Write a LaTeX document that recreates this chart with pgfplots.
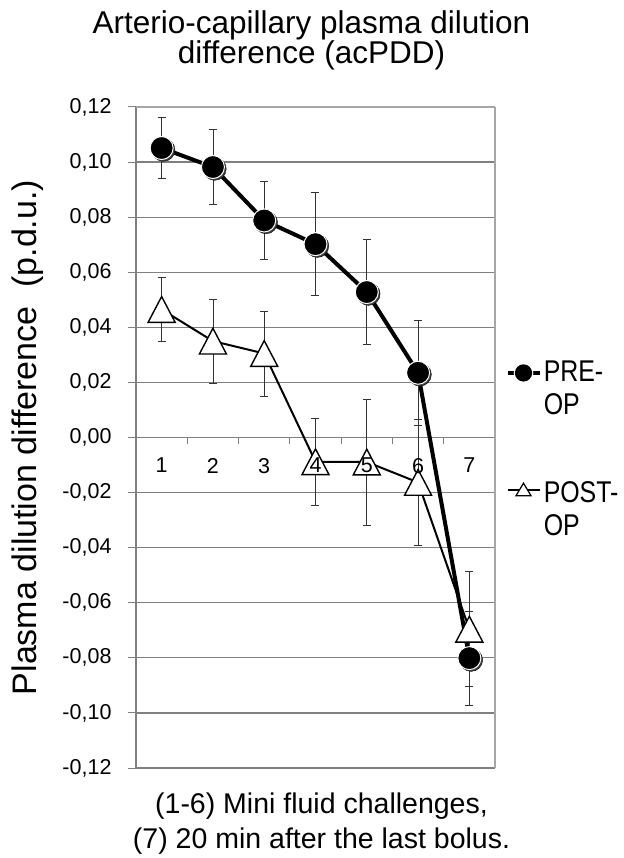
\documentclass[border=0pt]{standalone}
\usepackage{fontspec}
\setmainfont{Liberation Sans}
\usepackage{pgfplots}
\pgfplotsset{compat=1.18}
\newcommand\tickfont{\fontsize{21.5}{24}\selectfont}
\pgfplotsset{
    frame/.style={at={(0,0)}, anchor=south west,
        scale only axis, width=359pt, height=661pt,
        xmin=0.5, xmax=7.5, ymin=-0.12, ymax=0.12, clip=false,
        /pgf/number format/assume math mode=true},
}

% acPDD means, x = measurement, e = error
\pgfplotstableread{
x y e
1 0.1051 0.0111
2 0.0982 0.0135
3 0.0788 0.0141
4 0.0702 0.0187
5 0.0528 0.0190
6 0.0235 0.0190
7 -0.0801 0.0170
}\preop
\pgfplotstableread{
x y e
1 0.0465 0.0115
2 0.0350 0.0152
3 0.0305 0.0154
4 -0.0088 0.0158
5 -0.0089 0.0229
6 -0.0163 0.0227
7 -0.0696 0.0209
}\postop

\begin{document}
\begin{tikzpicture}
\path[use as bounding box] (-136pt,-90pt) rectangle (487pt,768pt);
\begin{axis}[
    frame,
    axis x line=middle, axis y line=left,
    axis line style={-, draw=black!50, line width=1.2pt},
    xtick={1,...,7}, xticklabels={},
    minor xtick={1.5,2.5,...,7.5},
    major x tick style={draw=none},
    minor x tick style={draw=black!50, line width=1pt},
    minor tick length=7pt,
    ytick={-0.12,-0.1,-0.08,-0.06,-0.04,-0.02,0,0.02,0.04,0.06,0.08,0.1,0.12},
    ytick style={draw=black!50, line width=1pt},
    major tick length=8pt,
    tick align=outside,
    ymajorgrids,
    grid style={draw=black!50, line width=1.2pt},
    yticklabel={\tickfont\pgfmathprintnumber[fixed, fixed zerofill, precision=2, use comma]{\tick}},
    yticklabel style={xshift=-13pt},
    title={Arterio-capillary plasma dilution\\difference (acPDD)},
    title style={font=\fontsize{31.5}{30}\selectfont, align=center, at={(axis description cs:0.5,1)}, anchor=south, inner sep=0pt, xshift=-4pt, yshift=31pt},
    xlabel={(1-6) Mini fluid challenges,\\(7) 20 min after the last bolus.},
    xlabel style={font=\fontsize{28.5}{35}\selectfont, align=center, at={(axis description cs:0.5,0)}, anchor=north, inner sep=0pt, xshift=6pt, yshift=-25pt},
    ylabel={Plasma dilution difference\ \ (p.d.u.)},
    ylabel style={font=\fontsize{34}{36}\selectfont, at={(axis description cs:0,0.5)}, anchor=south, inner sep=0pt, yshift=92pt},
    legend style={draw=none, fill=none, font=\fontsize{30}{33}\selectfont,
        at={(axis description cs:1.028,0.62)}, anchor=north west,
        row sep=62pt, inner sep=0pt, cells={anchor=west, align=left}},
]
% soft shadow behind the PRE-OP discs
\addplot[forget plot, only marks, mark=*, mark size=11.5pt,
    mark options={fill=black!75, draw=none, xshift=1.8pt, yshift=-1.8pt}]
    table[x=x, y=y] {\preop};
\addplot[black, line width=4pt, mark=*, mark size=11.5pt,
    mark options={fill=black, draw=white, line width=1pt},
    legend image code/.code={
        \draw[black, line width=4.5pt] (0pt,15pt) -- (32pt,15pt);
        \fill[white] (16pt,15pt) circle (7.8pt);
        \fill[black] (16pt,15pt) circle (6.6pt);
    },
    error bars/.cd, y dir=both, y explicit,
    error bar style={draw=black!80, line width=0.8pt},
    error mark options={rotate=90, draw=black!80, line width=0.8pt, mark size=4pt},
    ] table[x=x, y=y, y error=e] {\preop};
\addlegendentry{\scalebox{0.83}[1]{PRE-}\\\scalebox{0.83}[1]{OP}}
\addplot[black, line width=2pt, mark=triangle*, mark size=15.6pt,
    mark options={fill=white, draw=black, line width=1.4pt, yshift=-4.3pt, yscale=1.1},
    legend image code/.code={
        \draw[black, line width=1.6pt] (0pt,19pt) -- (32pt,19pt);
        \draw[black, fill=white, line width=1.2pt] (8.5pt,13.5pt) -- (23.5pt,13.5pt) -- (16pt,26pt) -- cycle;
    },
    error bars/.cd, y dir=both, y explicit,
    error bar style={draw=black!80, line width=0.8pt},
    error mark options={rotate=90, draw=black!80, line width=0.8pt, mark size=4pt},
    ] table[x=x, y=y, y error=e] {\postop};
\addlegendentry{\scalebox{0.83}[1]{POST-}\\\scalebox{0.83}[1]{OP}}
\draw[black!35, line width=1.2pt] (axis description cs:1,0) -- (axis description cs:1,1);
\draw[black!35, line width=1.2pt] (axis description cs:0,1) -- (axis description cs:1,1);
\end{axis}
% category numbers drawn over the markers, as in the reference
\begin{axis}[
    frame,
    axis x line=middle, axis y line=none,
    x axis line style={draw=none},
    xtick={1,...,7}, major tick length=0pt,
    xticklabel={\tickfont\pgfmathprintnumber{\tick}},
    xticklabel style={yshift=-17pt},
]
\addplot[draw=none] coordinates {(1,0)};
\end{axis}
\end{tikzpicture}
\end{document}
